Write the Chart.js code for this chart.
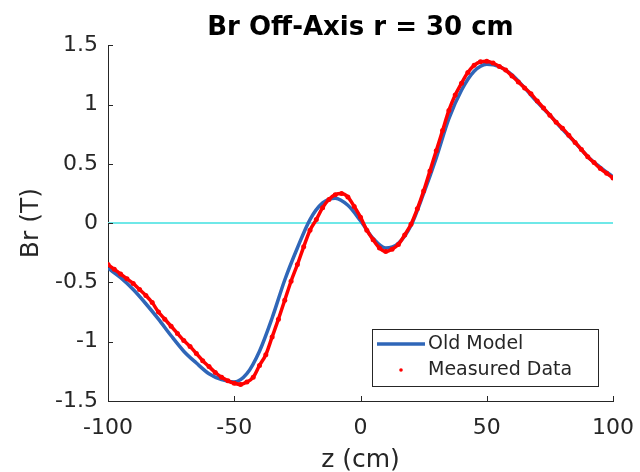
<!DOCTYPE html>
<html>
<head>
<meta charset="utf-8">
<script src="https://cdn.jsdelivr.net/npm/chart.js@4"></script>
<style>
  body { margin: 0; background: #fff; }
  canvas { display: block; }
</style>
</head>
<body>
<canvas id="myChart" width="640" height="472"></canvas>
<script>
// Old model, every 5 cm
const zModel = [-100, -95, -90, -85, -80, -75, -70, -65, -60, -55, -50, -45, -40, -35, -30, -25, -20, -15, -10, -5,
  0, 5, 10, 15, 20, 25, 30, 35, 40, 45, 50, 55, 60, 65, 70, 75, 80, 85, 90, 95, 100];
const brModel = [-0.38, -0.46, -0.56, -0.68, -0.81, -0.95, -1.08, -1.18, -1.27, -1.32, -1.34, -1.27, -1.08, -0.80, -0.48, -0.21, 0.03, 0.17, 0.21, 0.15,
  0.02, -0.13, -0.21, -0.17, -0.02, 0.25, 0.55, 0.88, 1.12, 1.28, 1.34, 1.32, 1.25, 1.14, 1.02, 0.91, 0.79, 0.68, 0.56, 0.47, 0.39];

// Measured data, every 2.5 cm
const zMeas = [-100, -97.5, -95, -92.5, -90, -87.5, -85, -82.5, -80, -77.5, -75, -72.5, -70, -67.5, -65, -62.5, -60, -57.5, -55, -52.5,
  -50, -47.5, -45, -42.5, -40, -37.5, -35, -32.5, -30, -27.5, -25, -22.5, -20, -17.5, -15, -12.5, -10, -7.5, -5, -2.5,
  0, 2.5, 5, 7.5, 10, 12.5, 15, 17.5, 20, 22.5, 25, 27.5, 30, 32.5, 35, 37.5, 40, 42.5, 45, 47.5,
  50, 52.5, 55, 57.5, 60, 62.5, 65, 67.5, 70, 72.5, 75, 77.5, 80, 82.5, 85, 87.5, 90, 92.5, 95, 97.5, 100];
const brMeas = [-0.35, -0.39, -0.43, -0.47, -0.51, -0.56, -0.61, -0.67, -0.75, -0.81, -0.87, -0.93, -0.99, -1.04, -1.10, -1.16, -1.21, -1.26, -1.30, -1.33,
  -1.35, -1.36, -1.34, -1.30, -1.20, -1.11, -0.96, -0.81, -0.65, -0.49, -0.35, -0.20, -0.06, 0.03, 0.13, 0.20, 0.24, 0.25, 0.22, 0.14,
  0.05, -0.06, -0.14, -0.21, -0.24, -0.22, -0.18, -0.10, -0.01, 0.12, 0.27, 0.44, 0.61, 0.78, 0.95, 1.08, 1.18, 1.27, 1.33, 1.36,
  1.365, 1.35, 1.32, 1.29, 1.24, 1.19, 1.14, 1.09, 1.03, 0.97, 0.91, 0.85, 0.80, 0.74, 0.68, 0.62, 0.56, 0.51, 0.46, 0.42, 0.38];

const zeroLine = [{ x: -100, y: 0 }, { x: 100, y: 0 }];
const xTicks = [-100, -50, 0, 50, 100];
const yTicks = [-1.5, -1, -0.5, 0, 0.5, 1, 1.5];

const FONT = "'DejaVu Sans', sans-serif";
const INK = "#262626";
const BLUE = "#2f66b8";
const RED = "#ff0000";

// inward tick marks, MATLAB style
const tickMarks = {
  id: "tickMarks",
  afterDraw(chart) {
    const { ctx, chartArea, scales } = chart;
    ctx.save();
    ctx.strokeStyle = INK;
    ctx.lineWidth = 1;
    ctx.beginPath();
    xTicks.forEach(v => {
      const px = Math.round(scales.x.getPixelForValue(v)) + 0.5;
      ctx.moveTo(px, chartArea.bottom);
      ctx.lineTo(px, chartArea.bottom - 5);
    });
    yTicks.forEach(v => {
      const py = Math.round(scales.y.getPixelForValue(v)) + 0.5;
      ctx.moveTo(chartArea.left, py);
      ctx.lineTo(chartArea.left + 5, py);
    });
    ctx.stroke();
    ctx.restore();
  }
};

// boxed legend inside the axes, lower right
const boxLegend = {
  id: "boxLegend",
  afterDraw(chart) {
    const { ctx, chartArea } = chart;
    const w = 226, h = 57;
    const x0 = chartArea.right - 15 - w;
    const y0 = chartArea.bottom - 15 - h;
    ctx.save();
    ctx.fillStyle = "#fff";
    ctx.fillRect(x0, y0, w, h);
    ctx.strokeStyle = INK;
    ctx.lineWidth = 1;
    ctx.strokeRect(Math.round(x0) + 0.5, Math.round(y0) + 0.5, w, h);

    ctx.strokeStyle = BLUE;
    ctx.lineWidth = 3.5;
    ctx.beginPath();
    ctx.moveTo(x0 + 5, y0 + 15);
    ctx.lineTo(x0 + 53, y0 + 15);
    ctx.stroke();

    ctx.fillStyle = RED;
    ctx.beginPath();
    ctx.arc(x0 + 29, y0 + 41, 1.8, 0, Math.PI * 2);
    ctx.fill();

    ctx.fillStyle = INK;
    ctx.font = "19px " + FONT;
    ctx.textBaseline = "middle";
    ctx.fillText("Old Model", x0 + 56, y0 + 15);
    ctx.fillText("Measured Data", x0 + 56, y0 + 41);
    ctx.restore();
  }
};

const config = {
  type: "scatter",
  data: {
    datasets: [
      {
        label: "zero",
        data: zeroLine,
        showLine: true,
        borderColor: "#6fe8e8",
        borderWidth: 2,
        pointRadius: 0,
        order: 3,
      },
      {
        label: "Old Model",
        data: zModel.map((z, i) => ({ x: z, y: brModel[i] })),
        showLine: true,
        borderColor: BLUE,
        borderWidth: 3.5,
        cubicInterpolationMode: "monotone",
        pointRadius: 0,
        order: 2,
      },
      {
        label: "Measured Data",
        data: zMeas.map((z, i) => ({ x: z, y: brMeas[i] })),
        showLine: true,
        borderColor: RED,
        borderWidth: 3.5,
        cubicInterpolationMode: "monotone",
        backgroundColor: RED,
        pointRadius: 2.5,
        pointBorderWidth: 0,
        order: 1,
      },
    ],
  },
  options: {
    responsive: false,
    animation: false,
    layout: {
      padding: { left: 0, right: 27, top: 0, bottom: 0 },
    },
    scales: {
      x: {
        type: "linear",
        min: -100,
        max: 100,
        afterBuildTicks: (s) => { s.ticks = xTicks.map(v => ({ value: v })); },
        afterFit: (s) => { s.height = 71; s.paddingLeft = 0; s.paddingRight = 0; },
        grid: { display: false, drawTicks: false },
        border: { display: true, color: INK, width: 1 },
        ticks: {
          color: INK,
          padding: 14,
          maxRotation: 0,
          font: { family: FONT, size: 22 },
        },
        title: {
          display: true,
          text: "z (cm)",
          color: INK,
          padding: { top: 0, bottom: -3 },
          font: { family: FONT, size: 25 },
        },
      },
      y: {
        min: -1.5,
        max: 1.5,
        afterBuildTicks: (s) => { s.ticks = yTicks.map(v => ({ value: v })); },
        afterFit: (s) => { s.width = 108; s.paddingTop = 0; s.paddingBottom = 0; },
        grid: { display: false, drawTicks: false },
        border: { display: true, color: INK, width: 1 },
        ticks: {
          color: INK,
          padding: 10,
          font: { family: FONT, size: 22 },
          callback: (v) => String(v),
        },
        title: {
          display: true,
          text: "Br (T)",
          color: INK,
          padding: { top: 16, bottom: 0 },
          font: { family: FONT, size: 25 },
        },
      },
    },
    plugins: {
      legend: { display: false },
      tooltip: { enabled: false },
      title: {
        display: true,
        fullSize: false,
        text: "Br Off-Axis r = 30 cm",
        color: "#000",
        padding: { top: 13, bottom: 1 },
        font: { family: FONT, size: 26, weight: "bold" },
      },
    },
  },
  plugins: [tickMarks, boxLegend],
};

const ctx = document.getElementById("myChart").getContext("2d");
new Chart(ctx, config);
</script>
</body>
</html>
